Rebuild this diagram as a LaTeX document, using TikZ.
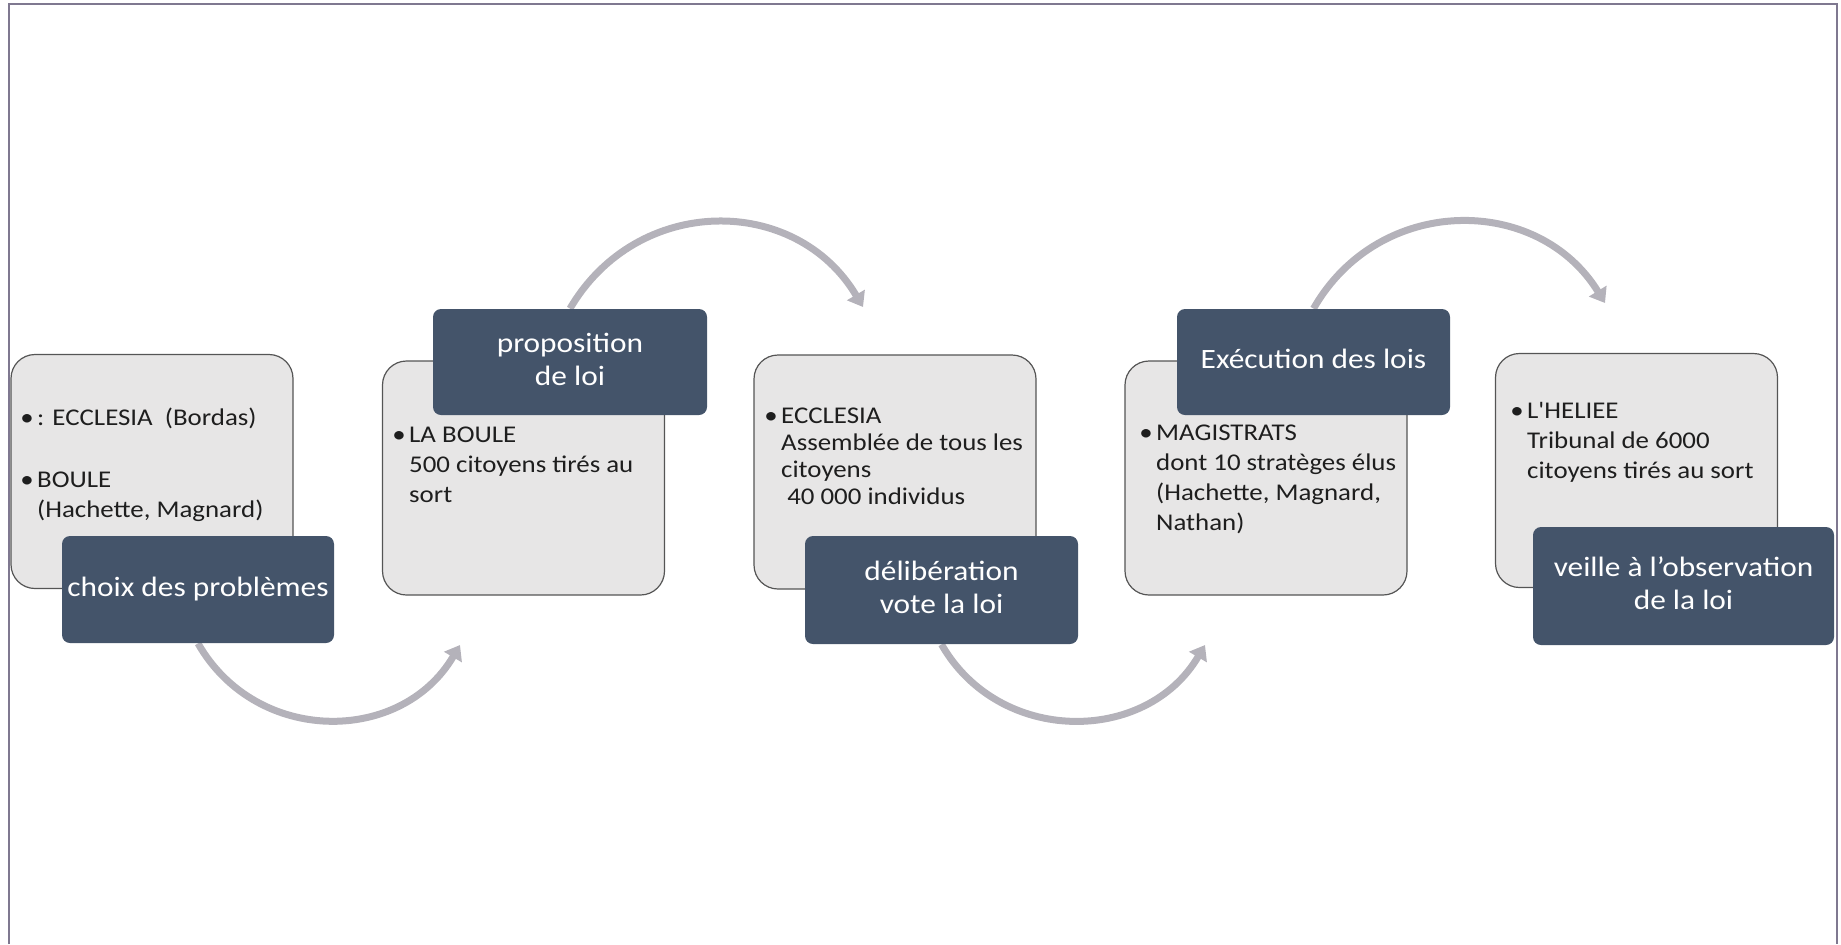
\documentclass[tikz,border=0pt]{standalone}
\usepackage{fontspec}
\usepackage{graphicx}
\setmainfont{Carlito}
\usetikzlibrary{arrows.meta}
\pgfdeclarelayer{background}
\pgfsetlayers{background,main}
\definecolor{darkboxcol}{HTML}{44546A}
\definecolor{lightboxcol}{HTML}{E7E6E6}
\definecolor{lightbordercol}{HTML}{555555}
\definecolor{arrowgray}{HTML}{B4B2BA}
\definecolor{framecol}{HTML}{7F7890}
\definecolor{lighttextcol}{HTML}{1E1E1E}
\newcommand{\bul}{\makebox[7.5pt][l]{\textbullet}}
\newcommand{\ind}{\hspace*{7.5pt}}
\newcommand{\lt}[1]{\scalebox{1.12}[1]{\begin{tabular}[t]{@{}l@{}}#1\end{tabular}}}
\newcommand{\dk}[1]{\scalebox{1.12}[1]{\begin{tabular}{@{}c@{}}#1\end{tabular}}}
\begin{document}
\begin{tikzpicture}[x=0.5pt, y=-0.5pt,
  lightstyle/.style={draw=lightbordercol, line width=0.6pt, fill=lightboxcol,
    rounded corners=12pt, minimum width=141pt, minimum height=117pt, inner sep=0pt},
  darkstyle/.style={fill=darkboxcol, rounded corners=4pt, text=white,
    font=\fontsize{14}{16.5}\selectfont, inner sep=0pt},
  lighttext/.style={anchor=base west, inner sep=0pt, text=lighttextcol,
    font=\fontsize{12}{15}\selectfont},
  flow/.style={draw=arrowgray, line width=3.5pt, -{Triangle[width=10pt,length=7pt]}}]
\useasboundingbox (0,0) rectangle (1841,944);
% frame
\draw[framecol, line width=1.3pt] (9,944) -- (9,4) -- (1837,4) -- (1837,944);
% light boxes
\node[lightstyle] (L1) at (152,471.5) {};
\node[lightstyle] (L2) at (523.5,478) {};
\node[lightstyle] (L3) at (895,472) {};
\node[lightstyle] (L4) at (1266,478) {};
\node[lightstyle] (L5) at (1636.5,470.5) {};
% light box texts
\node[lighttext] (T1) at (20,425) {\lt{\bul: ECCLESIA\ \ (Bordas)\\[16pt]\bul BOULE\\\ind(Hachette, Magnard)}};
\node[lighttext] (T2) at (392,442) {\lt{\bul LA BOULE\\\ind 500 citoyens tirés au\\\ind sort}};
\node[lighttext, font=\fontsize{12}{13.5}\selectfont] (T3) at (764,423) {\lt{\bul ECCLESIA\\\ind Assemblée de tous les\\\ind citoyens\\\ind\hspace*{2.7pt}40 000 individus}};
\node[lighttext] (T4) at (1139,440) {\lt{\bul MAGISTRATS\\\ind dont 10 stratèges élus\\\ind(Hachette, Magnard,\\\ind Nathan)}};
\node[lighttext] (T5) at (1510,418) {\lt{\bul L\textquotesingle HELIEE\\\ind Tribunal de 6000\\\ind citoyens tirés au sort}};
% dark boxes
\node[darkstyle, minimum width=136pt, minimum height=53.5pt] (D1) at (198,589.5) {\dk{choix des problèmes}};
\node[darkstyle, minimum width=137pt, minimum height=53pt] (D2) at (570,362) {\dk{proposition\\de loi}};
\node[darkstyle, minimum width=136.5pt, minimum height=54pt] (D3) at (941.5,590) {\dk{délibération\\vote la loi}};
\node[darkstyle, minimum width=136.5pt, minimum height=53pt] (D4) at (1313.5,362) {\dk{Exécution des lois}};
\node[darkstyle, minimum width=150.5pt, minimum height=59pt] (D5) at (1683.5,586) {\dk{veille à l’observation\\de la loi}};
% arrow ends
\coordinate (E1) at (460,645);
\coordinate (E2) at (863,307);
\coordinate (E3) at (1205,645);
\coordinate (E4) at (1605,303);
\begin{pgfonlayer}{background}
\draw[flow] (D1.south) .. controls (256,745) and (401,745) .. (E1);
\draw[flow] (D2.north) .. controls (637,194) and (796,194) .. (E2);
\draw[flow] (D3.south) .. controls (999,745) and (1146,745) .. (E3);
\draw[flow] (D4.north) .. controls (1379,194) and (1538,194) .. (E4);
\end{pgfonlayer}
\end{tikzpicture}
\end{document}
